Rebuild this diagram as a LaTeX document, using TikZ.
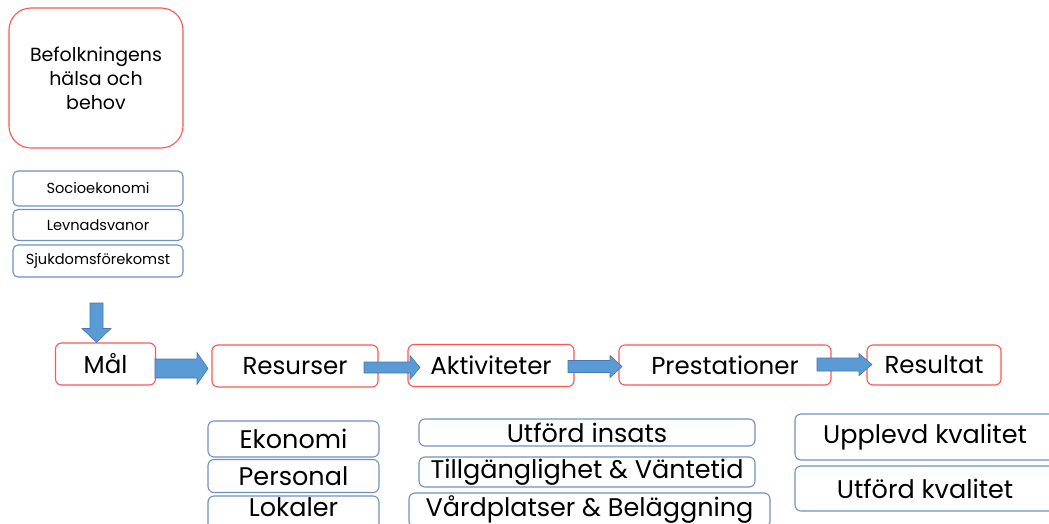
\documentclass[tikz,border=0pt]{standalone}
\usepackage{fontspec}
\setmainfont{Poppins}
\usetikzlibrary{calc}
\definecolor{boxred}{RGB}{255,85,85}
\definecolor{boxblue}{RGB}{110,145,190}
\definecolor{arrfill}{RGB}{91,155,213}
\definecolor{arrline}{RGB}{70,120,180}
\tikzset{
  redbox/.style={draw=boxred, line width=1.1pt, rounded corners=6pt, inner sep=0pt, font=\fontsize{24.5}{28}\selectfont},
  bigred/.style={draw=boxred, line width=1.1pt, rounded corners=22pt, inner sep=0pt, align=center, font=\fontsize{19}{24}\selectfont},
  bluesmall/.style={draw=boxblue, line width=1.1pt, rounded corners=5pt, inner sep=0pt, font=\fontsize{14.6}{17}\selectfont},
  bluebox/.style={draw=boxblue, line width=1.1pt, rounded corners=6pt, inner sep=0pt, font=\fontsize{25.5}{29}\selectfont},
  barrow/.style={fill=arrfill, draw=arrline, line width=0.6pt},
}
% horizontal block arrow: #1 start, #2 tip, #3 shaft half, #4 head half, #5 head length
\newcommand\hbarrow[5]{%
  \filldraw[barrow] let \p1=(#1), \p2=(#2) in
    (\x1,\y2+#3pt) -- (\x2-#5pt,\y2+#3pt) -- (\x2-#5pt,\y2+#4pt) -- (\x2,\y2)
    -- (\x2-#5pt,\y2-#4pt) -- (\x2-#5pt,\y2-#3pt) -- (\x1,\y2-#3pt) -- cycle;}
\begin{document}
\begin{tikzpicture}[x=1pt,y=-1pt]
\useasboundingbox (0,0) rectangle (1049,524);
% top group
\node[bigred, minimum width=174pt, minimum height=140pt] (pop) at (96,78) {Befolkningens\\hälsa och\\behov};
\node[bluesmall, minimum width=170pt, minimum height=35pt] (soc) at (98,188.5) {Socioekonomi};
\node[bluesmall, minimum width=170pt, minimum height=31pt] (lev) at (98,225) {Levnadsvanor};
\node[bluesmall, minimum width=170pt, minimum height=32pt] (sju) at (98,261) {Sjukdomsförekomst};
% main row
\node[redbox, minimum width=100pt, minimum height=42pt] (mal) at (105.5,364) {Mål};
\node[redbox, minimum width=166pt, minimum height=42pt] (res) at (295,366) {Resurser};
\node[redbox, minimum width=166pt, minimum height=42pt] (akt) at (491,365.5) {Aktiviteter};
\node[redbox, minimum width=212pt, minimum height=40pt] (pre) at (725,365) {Prestationer};
\node[redbox, minimum width=134pt, minimum height=40pt] (rsl) at (934,365) {Resultat};
% down arrow
\coordinate (dtop) at (96.5,303);
\filldraw[barrow] let \p1=(dtop), \p2=(mal.north) in
  (\x1-6.5pt,\y1) -- (\x1+6.5pt,\y1) -- (\x1+6.5pt,\y2+14pt) -- (\x1+14.5pt,\y2+14pt)
  -- (\x1,\y2) -- (\x1-14.5pt,\y2+14pt) -- (\x1-6.5pt,\y2+14pt) -- cycle;
% horizontal arrows
\coordinate (a1s) at (155,368.5); \coordinate (a1t) at (208,368.5);
\hbarrow{a1s}{a1t}{9.5}{16}{11}
\coordinate (a2s) at (364,367.5); \coordinate (a2t) at (420,367.5);
\hbarrow{a2s}{a2t}{5.5}{12}{10}
\coordinate (a3s) at (568,366.5); \coordinate (a3t) at (622,366.5);
\hbarrow{a3s}{a3t}{6}{11}{12}
\coordinate (a4s) at (817,364.5); \coordinate (a4t) at (872,364.5);
\hbarrow{a4s}{a4t}{6.5}{11}{13}
% bottom boxes
\node[bluebox, minimum width=171pt, minimum height=36pt] (eko) at (293.5,439) {Ekonomi};
\node[bluebox, minimum width=171pt, minimum height=33pt] (per) at (293.5,476) {Personal};
\node[draw=boxblue, line width=1.1pt, rounded corners=6pt, minimum width=171pt, minimum height=34pt] (lok) at (293.5,513) {};
\node[font=\fontsize{25.5}{29}\selectfont, inner sep=0pt] (lokt) at (293.5,507.5) {Lokaler};
\node[bluebox, minimum width=336pt, minimum height=27pt] (uti) at (587,432.5) {Utförd insats};
\node[bluebox, minimum width=336pt, minimum height=30pt] (til) at (587,472) {Tillgänglighet \& Väntetid};
\node[bluebox, minimum width=361pt, minimum height=34pt] (var) at (589.5,510) {Vårdplatser \& Beläggning};
\node[bluebox, minimum width=260pt, minimum height=46pt] (upp) at (925,437) {Upplevd kvalitet};
\node[bluebox, minimum width=260pt, minimum height=45pt] (utk) at (925,488.5) {Utförd kvalitet};
\end{tikzpicture}
\end{document}
